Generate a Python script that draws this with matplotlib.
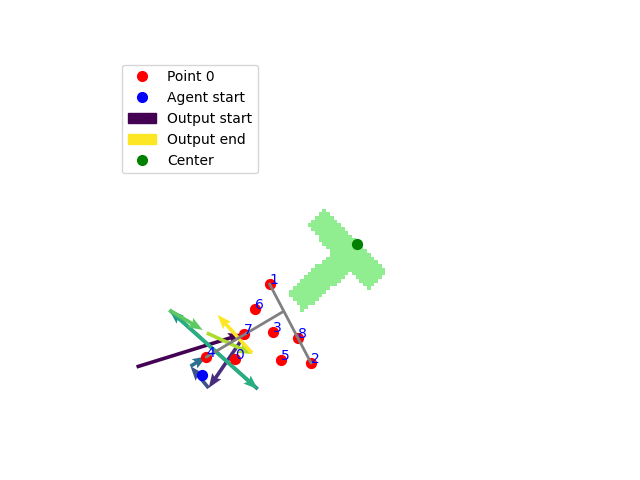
import numpy as np
import matplotlib
matplotlib.use("Agg")
import matplotlib.pyplot as plt
from matplotlib.path import Path
from matplotlib.patches import Patch
from matplotlib.colors import ListedColormap

# grid size (cells)
W, H = 115, 100

# target T outline (grid units, y down)
t_outline_x = [56.6, 73.9, 68.3, 64.0, 50.7, 46.6, 58.5, 52.1]
t_outline_y = [41.0, 58.0, 62.8, 58.0, 68.8, 63.7, 52.8, 45.8]

# agent points 0..8
point_x = [32.4, 41.7, 52.9, 42.6, 24.6, 44.8, 37.7, 34.8, 49.4]
point_y = [81.6, 61.3, 82.6, 74.2, 81.0, 81.7, 68.1, 74.8, 76.0]

agent_start = (23.3, 86.0)
center = (65.3, 50.4)

# skeleton of the agent
bar_x = [41.7, 52.9]
bar_y = [61.3, 82.6]
stem_x = [45.4, 24.6]
stem_y = [68.7, 81.0]

# outputs (arrows), in order
out_x0 = [5.7, 33.9, 25.2, 20.3, 38.5, 14.6, 14.6, 24.7, 36.9]
out_y0 = [83.7, 76.7, 89.4, 83.5, 89.7, 68.3, 68.3, 74.5, 79.9]
out_x1 = [34.4, 25.2, 20.3, 24.7, 14.6, 38.5, 23.6, 37.1, 27.6]
out_y1 = [74.8, 89.4, 83.5, 80.8, 68.3, 89.7, 73.7, 80.2, 69.6]

# rasterize the T on the grid
gx, gy = np.meshgrid(np.arange(W) + 0.5, np.arange(H) + 0.5)
t_path = Path(np.column_stack([t_outline_x, t_outline_y]))
mask = t_path.contains_points(np.column_stack([gx.ravel(), gy.ravel()])).reshape(H, W)
mask = np.ma.masked_where(~mask, mask.astype(float))

fig, ax = plt.subplots(figsize=(6.4, 4.8), dpi=100)
ax.imshow(mask, cmap=ListedColormap(["lightgreen"]), extent=(0, W, H, 0),
          interpolation="nearest", zorder=1)

n = len(out_x0)
colors = plt.cm.viridis(np.linspace(0, 1, n))
dx = np.array(out_x1) - np.array(out_x0)
dy = np.array(out_y1) - np.array(out_y0)
ax.quiver(out_x0, out_y0, dx, dy, color=colors, angles="xy", scale_units="xy",
          scale=1, width=0.0085, headlength=4, headaxislength=3.5, zorder=2)

ax.scatter(point_x, point_y, color="red", s=50, zorder=3)
ax.scatter(*agent_start, color="blue", s=50, zorder=3)
ax.scatter(*center, color="green", s=50, zorder=3)

ax.plot(bar_x, bar_y, color="gray", lw=2, zorder=4)
ax.plot(stem_x, stem_y, color="gray", lw=2, zorder=4)

for i in range(len(point_x)):
    ax.text(point_x[i], point_y[i], str(i), color="blue", fontsize=10, zorder=5)

handles = [
    plt.Line2D([], [], marker="o", ls="", color="red", markersize=7, label="Point 0"),
    plt.Line2D([], [], marker="o", ls="", color="blue", markersize=7, label="Agent start"),
    Patch(color=colors[0], label="Output start"),
    Patch(color=colors[-1], label="Output end"),
    plt.Line2D([], [], marker="o", ls="", color="green", markersize=7, label="Center"),
]
ax.legend(handles=handles, loc="upper left")

ax.set_xlim(0, W)
ax.set_ylim(H, 0)
ax.set_aspect("equal")
ax.axis("off")

plt.savefig("out.png")
